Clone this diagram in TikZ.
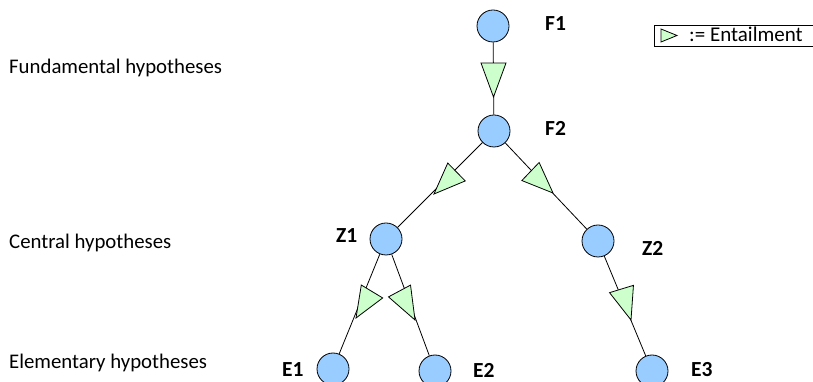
\documentclass[tikz,border=0pt]{standalone}
\usepackage{fontspec}
\setmainfont{Carlito}
\usetikzlibrary{calc}
\definecolor{nodeblue}{HTML}{99CCFF}
\definecolor{entgreen}{HTML}{CCFFCC}
\tikzset{
  hyp/.style={circle, draw=black, fill=nodeblue, line width=0.8pt, minimum size=32pt, inner sep=0pt},
  conn/.style={draw=black, line width=0.8pt},
  enttri/.style={draw=black, fill=entgreen, line width=0.8pt, line join=miter},
  lbl/.style={anchor=base west, inner sep=0pt, font=\fontsize{21.5}{24}\selectfont\bfseries},
  level/.style={anchor=base west, inner sep=0pt, font=\fontsize{20.8}{24}\selectfont},
}
\newcommand{\entailmark}[2]{%
  \draw[enttri] (#2) -- ($(#1)!12.5pt!90:(#2)$) -- ($(#1)!12.5pt!-90:(#2)$) -- cycle;}
\begin{document}
\begin{tikzpicture}[x=1pt,y=1pt]
\useasboundingbox (0,0) rectangle (813,382);
\clip (0,0) rectangle (813,382);
% level texts
\node[level] (lf) at (9,308) {Fundamental hypotheses};
\node[level] (lc) at (9,133) {Central hypotheses};
\node[level] (le) at (9,13) {Elementary hypotheses};
% hypothesis nodes
\node[hyp] (F1) at (493,356) {};
\node[hyp] (F2) at (494,251) {};
\node[hyp] (Z1) at (386,143) {};
\node[hyp] (Z2) at (598,141) {};
\node[hyp] (E1) at (333,13) {};
\node[hyp] (E2) at (435,11) {};
\node[hyp] (E3) at (652,11) {};
% connectors
\draw[conn] (F1) -- (F2);
\draw[conn] (F2) -- (Z1);
\draw[conn] (F2) -- (Z2);
\draw[conn] (Z1) -- (E1);
\draw[conn] (Z1) -- (E2);
\draw[conn] (Z2) -- (E3);
% entailment marks (base midpoint, apex)
\coordinate (m1) at (493.5,319); \coordinate (a1) at (493.5,285);
\coordinate (m2) at (456.5,210); \coordinate (a2) at (434,188);
\coordinate (m3) at (530.5,210.5); \coordinate (a3) at (553,189);
\coordinate (m4) at (372,90.5); \coordinate (a4) at (356,64);
\coordinate (m5) at (399.5,91); \coordinate (a5) at (415,62);
\coordinate (m6) at (621.5,93); \coordinate (a6) at (631,62);
\entailmark{m1}{a1}
\entailmark{m2}{a2}
\entailmark{m3}{a3}
\entailmark{m4}{a4}
\entailmark{m5}{a5}
\entailmark{m6}{a6}
% labels
\node[lbl] (lF1) at (545,351) {F1};
\node[lbl] (lF2) at (545,246) {F2};
\node[lbl] (lZ1) at (336,139) {Z1};
\node[lbl] (lZ2) at (642,126) {Z2};
\node[lbl] (lE1) at (282,5) {E1};
\node[lbl] (lE2) at (473,4) {E2};
\node[lbl] (lE3) at (691,5) {E3};
% legend
\draw[line width=0.8pt] (654,357) rectangle (830,336);
\coordinate (lm) at (661,346.5); \coordinate (la) at (677,346.5);
\draw[enttri] (la) -- ($(lm)!6.5pt!90:(la)$) -- ($(lm)!6.5pt!-90:(la)$) -- cycle;
\node[anchor=base west, inner sep=0pt, font=\fontsize{21}{22}\selectfont] (leg) at (689,340) {:= Entailment};
\end{tikzpicture}
\end{document}
